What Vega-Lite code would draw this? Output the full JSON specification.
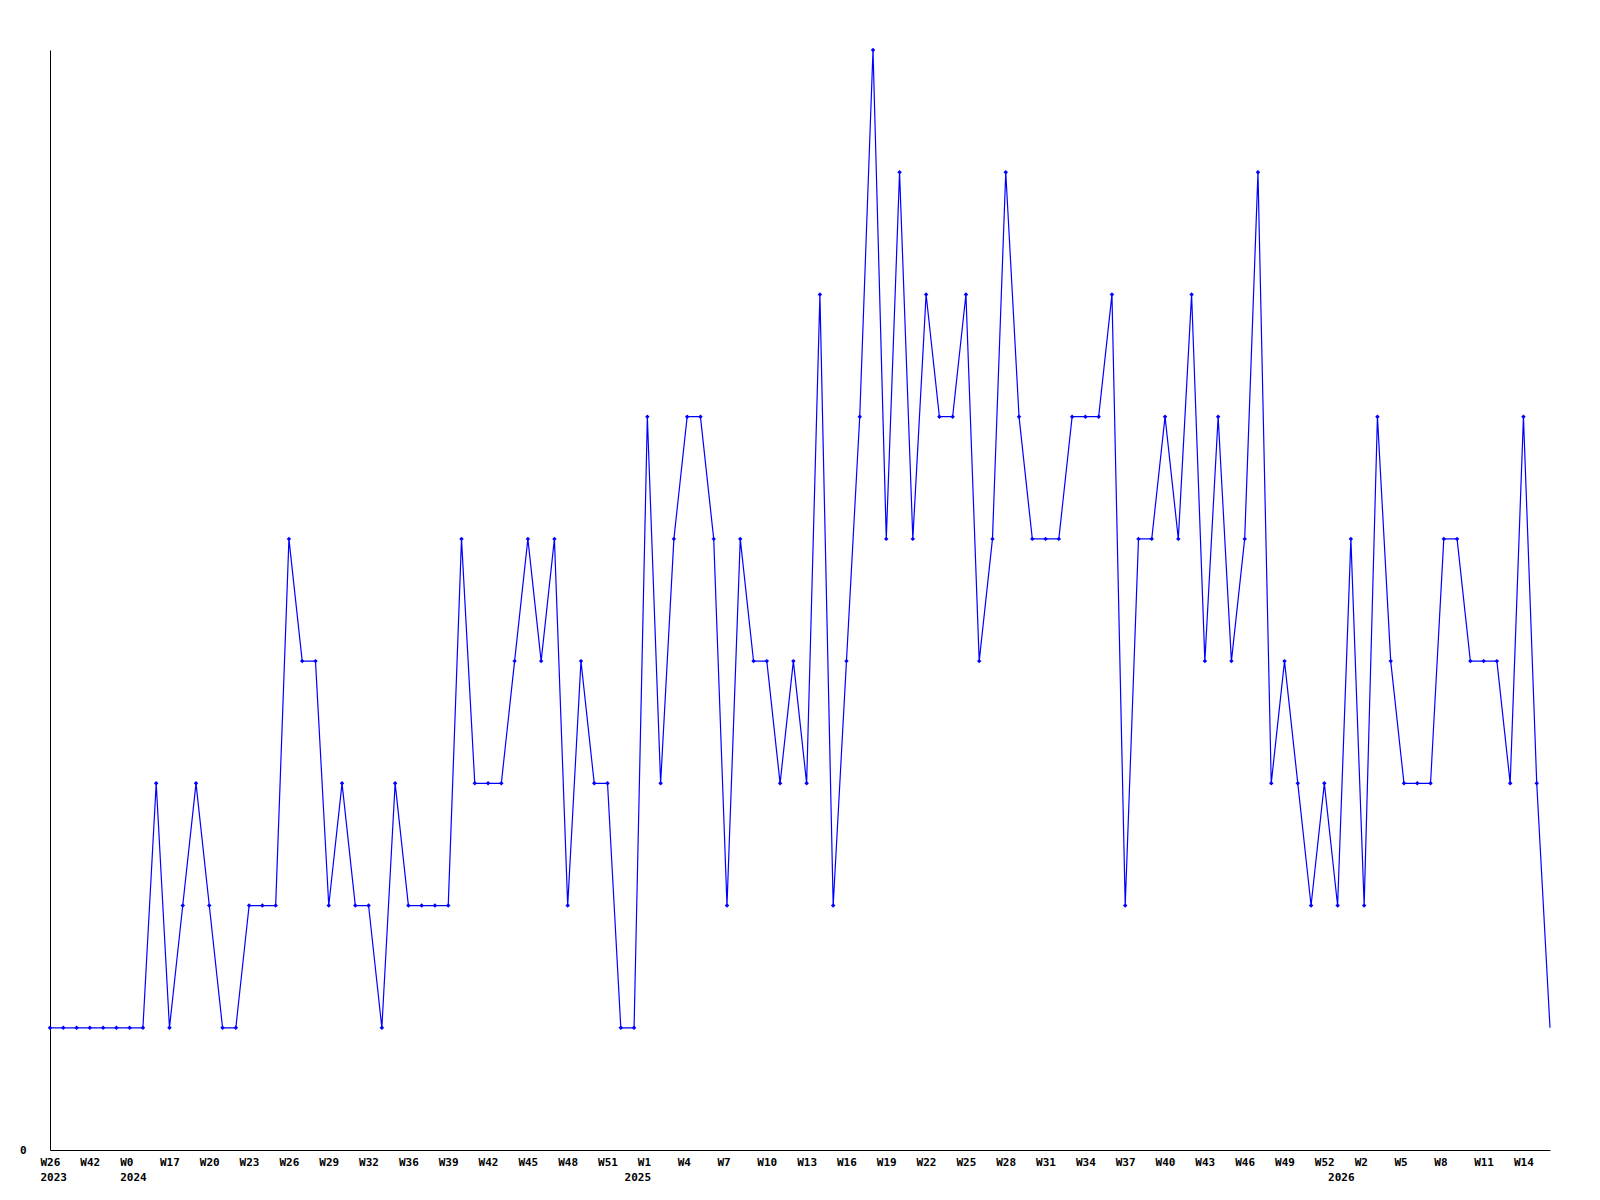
{
  "$schema": "https://vega.github.io/schema/vega-lite/v6.json",
  "width": 1500,
  "height": 1100,
  "autosize": {"type": "none"},
  "padding": {"left": 50, "top": 50, "right": 50, "bottom": 50},
  "background": "white",
  "config": {"view": {"stroke": null}},
  "data": {"values": [
    {"i":0,"v":1},{"i":1,"v":1},{"i":2,"v":1},{"i":3,"v":1},{"i":4,"v":1},{"i":5,"v":1},{"i":6,"v":1},{"i":7,"v":1},{"i":8,"v":3},{"i":9,"v":1},
    {"i":10,"v":2},{"i":11,"v":3},{"i":12,"v":2},{"i":13,"v":1},{"i":14,"v":1},{"i":15,"v":2},{"i":16,"v":2},{"i":17,"v":2},{"i":18,"v":5},{"i":19,"v":4},
    {"i":20,"v":4},{"i":21,"v":2},{"i":22,"v":3},{"i":23,"v":2},{"i":24,"v":2},{"i":25,"v":1},{"i":26,"v":3},{"i":27,"v":2},{"i":28,"v":2},{"i":29,"v":2},
    {"i":30,"v":2},{"i":31,"v":5},{"i":32,"v":3},{"i":33,"v":3},{"i":34,"v":3},{"i":35,"v":4},{"i":36,"v":5},{"i":37,"v":4},{"i":38,"v":5},{"i":39,"v":2},
    {"i":40,"v":4},{"i":41,"v":3},{"i":42,"v":3},{"i":43,"v":1},{"i":44,"v":1},{"i":45,"v":6},{"i":46,"v":3},{"i":47,"v":5},{"i":48,"v":6},{"i":49,"v":6},
    {"i":50,"v":5},{"i":51,"v":2},{"i":52,"v":5},{"i":53,"v":4},{"i":54,"v":4},{"i":55,"v":3},{"i":56,"v":4},{"i":57,"v":3},{"i":58,"v":7},{"i":59,"v":2},
    {"i":60,"v":4},{"i":61,"v":6},{"i":62,"v":9},{"i":63,"v":5},{"i":64,"v":8},{"i":65,"v":5},{"i":66,"v":7},{"i":67,"v":6},{"i":68,"v":6},{"i":69,"v":7},
    {"i":70,"v":4},{"i":71,"v":5},{"i":72,"v":8},{"i":73,"v":6},{"i":74,"v":5},{"i":75,"v":5},{"i":76,"v":5},{"i":77,"v":6},{"i":78,"v":6},{"i":79,"v":6},
    {"i":80,"v":7},{"i":81,"v":2},{"i":82,"v":5},{"i":83,"v":5},{"i":84,"v":6},{"i":85,"v":5},{"i":86,"v":7},{"i":87,"v":4},{"i":88,"v":6},{"i":89,"v":4},
    {"i":90,"v":5},{"i":91,"v":8},{"i":92,"v":3},{"i":93,"v":4},{"i":94,"v":3},{"i":95,"v":2},{"i":96,"v":3},{"i":97,"v":2},{"i":98,"v":5},{"i":99,"v":2},
    {"i":100,"v":6},{"i":101,"v":4},{"i":102,"v":3},{"i":103,"v":3},{"i":104,"v":3},{"i":105,"v":5},{"i":106,"v":5},{"i":107,"v":4},{"i":108,"v":4},{"i":109,"v":4},
    {"i":110,"v":3},{"i":111,"v":6},{"i":112,"v":3},{"i":113,"v":1}
  ]},
  "encoding": {
    "x": {
      "field": "i", "type": "quantitative",
      "scale": {"domain": [0, 113], "nice": false, "zero": false},
      "axis": {
        "title": null, "grid": false, "ticks": false,
        "domainColor": "black", "domainWidth": 1,
        "values": [0,3,6,9,12,15,18,21,24,27,30,33,36,39,42,44,45,48,51,54,57,60,63,66,69,72,75,78,81,84,87,90,93,96,97,99,102,105,108,111],
        "labelExpr": "datum.value == 44 ? ['', '2025'] : datum.value == 97 ? ['', '2026'] : [['W26','2023'],'W42',['W0','2024'],'W17','W20','W23','W26','W29','W32','W36','W39','W42','W45','W48','W51','W1','W4','W7','W10','W13','W16','W19','W22','W25','W28','W31','W34','W37','W40','W43','W46','W49','W52','W2','W5','W8','W11','W14'][round(datum.value/3)]",
        "labelAlign": "left", "labelOffset": -10, "labelBaseline": "top",
        "labelPadding": 6, "labelLineHeight": 15.5,
        "labelFont": "DejaVu Sans Mono", "labelFontWeight": "bold", "labelFontSize": 11,
        "labelColor": "black", "labelOverlap": false, "labelFlush": false
      }
    },
    "y": {
      "field": "v", "type": "quantitative",
      "scale": {"domain": [0, 9], "nice": false},
      "axis": {
        "title": null, "grid": false, "ticks": false,
        "domainColor": "black", "domainWidth": 1,
        "values": [0], "labelPadding": 24,
        "labelFont": "DejaVu Sans Mono", "labelFontWeight": "bold", "labelFontSize": 11,
        "labelColor": "black"
      }
    }
  },
  "layer": [
    {"mark": {"type": "line", "color": "#0000ff", "strokeWidth": 1.2}},
    {
      "transform": [{"filter": "datum.i < 113"}],
      "mark": {"type": "point", "shape": "diamond", "filled": true, "color": "#0000ff", "size": 20, "opacity": 1}
    }
  ]
}
